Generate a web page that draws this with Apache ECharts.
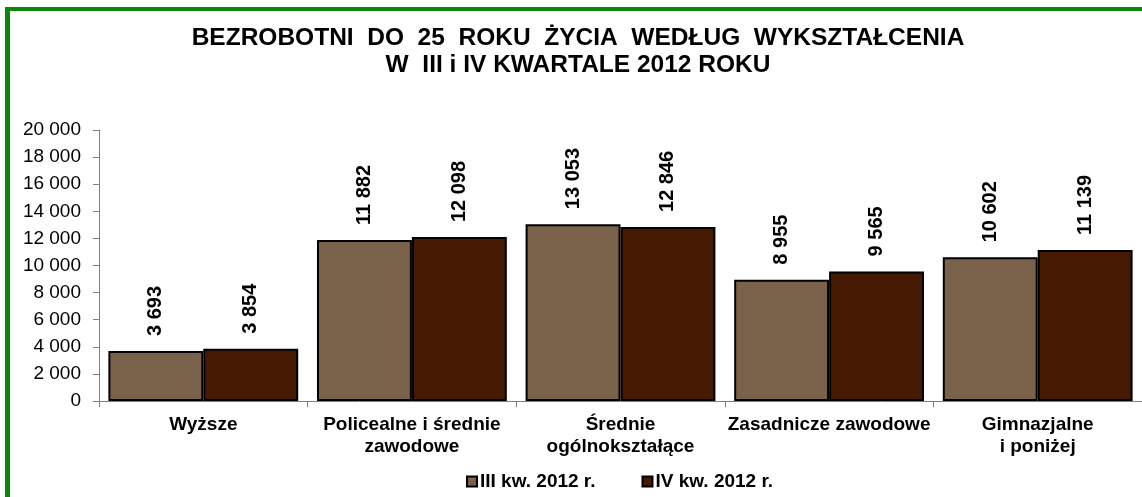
<!DOCTYPE html>
<html>
<head>
<meta charset="utf-8">
<script src="https://cdn.jsdelivr.net/npm/echarts@6/dist/echarts.min.js"></script>
<style>
html,body{margin:0;padding:0;background:#fff;}
#chart{width:1142px;height:497px;}
</style>
</head>
<body>
<div id="chart"></div>
<script>
const titleLines = ['BEZROBOTNI  DO  25  ROKU  ŻYCIA  WEDŁUG  WYKSZTAŁCENIA', 'W  III i IV KWARTALE 2012 ROKU'];
const categories = ['Wyższe', 'Policealne i średnie\nzawodowe', 'Średnie\nogólnokształące', 'Zasadnicze zawodowe', 'Gimnazjalne\ni poniżej'];
const seriesNames = ['III kw. 2012 r.', 'IV kw. 2012 r.'];
const q3Values = [3693, 11882, 13053, 8955, 10602];
const q4Values = [3854, 12098, 12846, 9565, 11139];
const colors = ['#7A6149', '#461A02'];

function fmt(v){ return String(v).replace(/\B(?=(\d{3})+(?!\d))/g, ' '); }

const chart = echarts.init(document.getElementById('chart'), null, {renderer:'canvas'});
const font = 'Arial, "Liberation Sans", sans-serif';
const labelCfg = {
  show: true, position: 'top', rotate: 90, align: 'left', verticalAlign: 'middle',
  distance: 15, fontFamily: font, fontWeight: 'bold', fontSize: 20, color: '#000',
  formatter: p => fmt(p.value)
};
chart.setOption({
  animation: false,
  textStyle: {fontFamily: font},
  graphic: [
    {type:'rect', shape:{x:5, y:7, width:5, height:490}, style:{fill:'#0A870A'}},
    {type:'rect', shape:{x:5, y:7, width:1137, height:4}, style:{fill:'#0A870A'}}
  ],
  title: {
    text: titleLines.join('\n'),
    left: 573, top: 20, textAlign: 'center',
    textStyle: {fontFamily: font, fontWeight: 'bold', fontSize: 24.5, lineHeight: 26.5, color: '#000'}
  },
  legend: {
    data: seriesNames, left: 461, top: 467, itemWidth: 10, itemHeight: 10, itemGap: 46,
    icon: 'rect',
    textStyle: {fontFamily: font, fontWeight: 'bold', fontSize: 19, color: '#000', padding:[0,0,0,-2]}
  },
  grid: {left: 99, top: 130, width: 1045, height: 271, containLabel: false},
  xAxis: {
    type: 'category', data: categories,
    axisLine: {lineStyle: {color: '#808080', width: 1}},
    axisTick: {show: true, length: 6, lineStyle: {color: '#808080'}},
    axisLabel: {fontFamily: font, fontWeight: 'bold', fontSize: 19, color: '#000', margin: 13, lineHeight: 22, interval: 0}
  },
  yAxis: {
    type: 'value', min: 0, max: 20000, interval: 2000,
    axisLine: {show: true, lineStyle: {color: '#808080', width: 1}},
    axisTick: {show: true, length: 6, lineStyle: {color: '#808080'}},
    splitLine: {show: false},
    axisLabel: {fontFamily: font, fontSize: 19, color: '#000', margin: 18, formatter: v => fmt(v)}
  },
  series: [
    {name: seriesNames[0], type: 'bar', data: q3Values, barGap: '0%', barCategoryGap: '9%',
     itemStyle: {color: colors[0], borderColor: '#000', borderWidth: 2}, label: labelCfg},
    {name: seriesNames[1], type: 'bar', data: q4Values, barGap: '0%', barCategoryGap: '9%',
     itemStyle: {color: colors[1], borderColor: '#000', borderWidth: 2}, label: labelCfg}
  ]
});
</script>
</body>
</html>
